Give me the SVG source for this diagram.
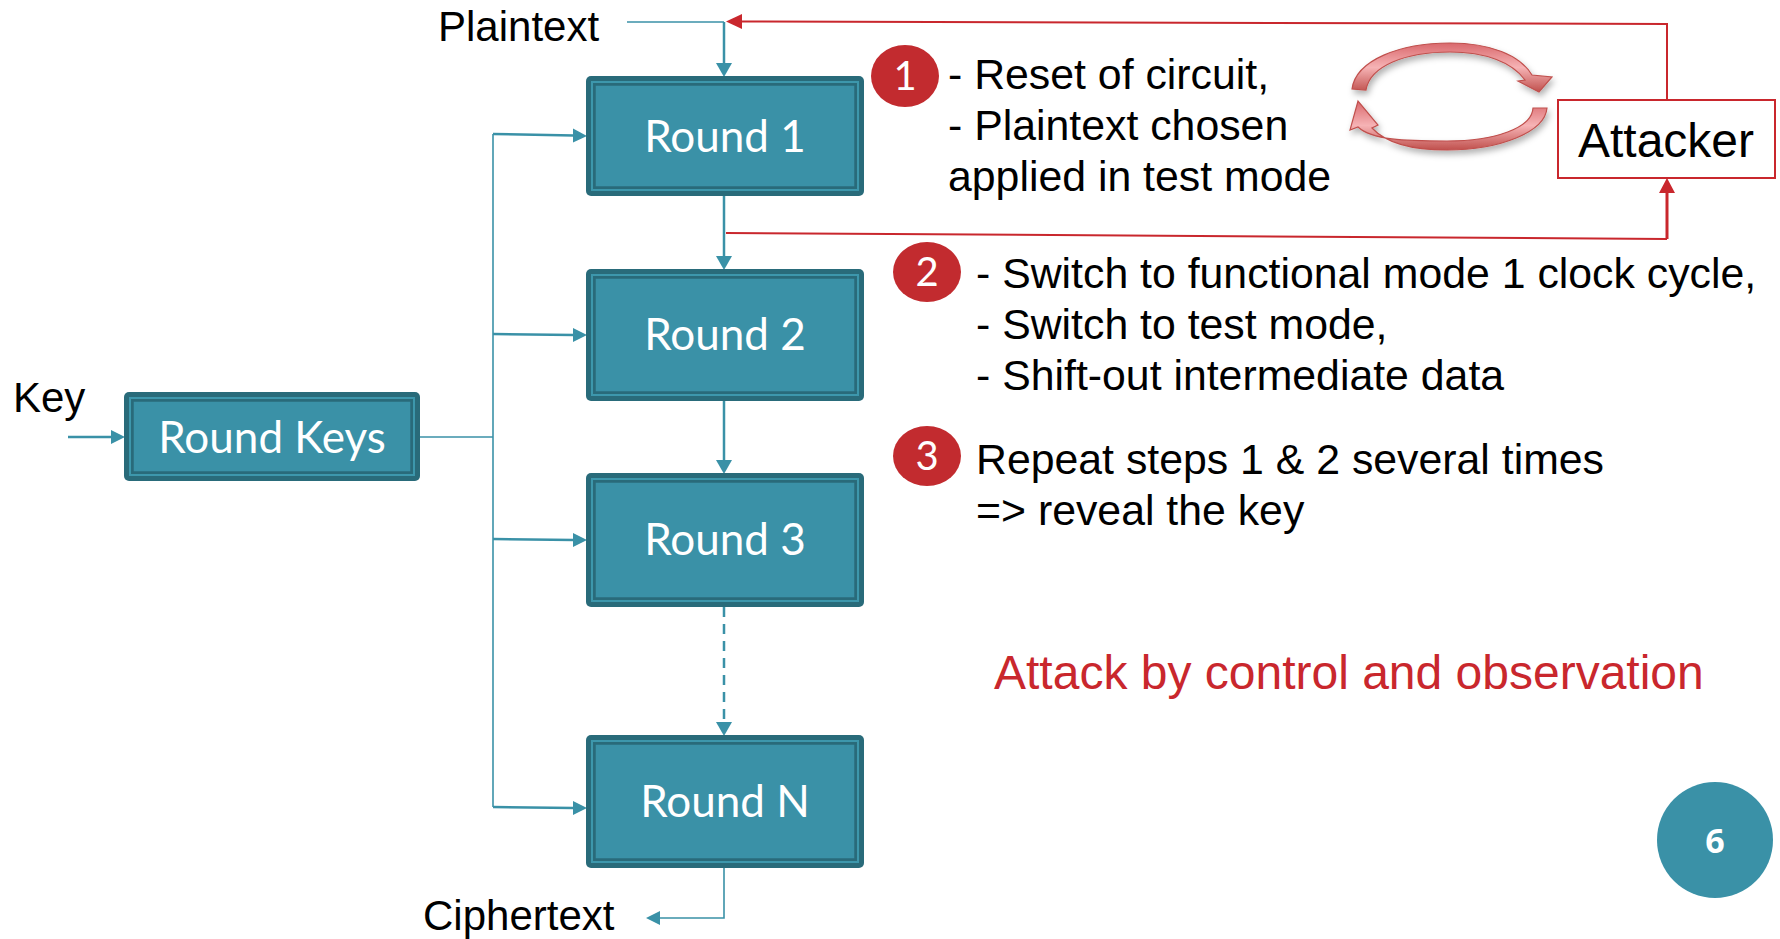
<svg xmlns="http://www.w3.org/2000/svg" width="1780" height="939" viewBox="0 0 1780 939">
<style>
.lbl{font-family:"Liberation Sans",Arial,sans-serif;font-size:42px;fill:#000}
.box-o{fill:#296b7a}
.box-m{fill:none;stroke:#3d97ac;stroke-width:2}
.box-i{fill:#3a91a7;stroke:#2a6b7b;stroke-width:1.5}
.box-t{font-family:Lato,"Open Sans",sans-serif;font-size:44px;fill:#fff;text-anchor:middle}
.tc{fill:none;stroke:#3a91a7;stroke-width:2.5}
.tcth{fill:none;stroke:#3a91a7;stroke-width:1.6}
.rd{fill:none;stroke:#c9272d;stroke-width:2}
.badge{fill:#c22b2f}
.badge-t{font-family:Lato,"Open Sans",sans-serif;font-size:40px;fill:#fff;text-anchor:middle}
.step{font-family:"Liberation Sans",Arial,sans-serif;font-size:42.8px;fill:#000}
</style>
<defs>
<linearGradient id="cg" x1="0" y1="0" x2="0" y2="1"><stop offset="0" stop-color="#d9686c"/><stop offset="0.5" stop-color="#f6b3b5"/><stop offset="1" stop-color="#c0504d"/></linearGradient>
<filter id="sh" x="-20%" y="-20%" width="140%" height="160%"><feDropShadow dx="2" dy="4" stdDeviation="3" flood-color="#000" flood-opacity="0.3"/></filter>
</defs>

<g id="connectors">
  <path class="tcth" d="M627,22 H724"/>
  <path class="tc" d="M724,22 V63"/>
  <path d="M716,63 L732,63 L724,77 z" fill="#3a91a7"/>
  <path class="tc" d="M724,196 V256"/>
  <path d="M716,256 L732,256 L724,270 z" fill="#3a91a7"/>
  <path class="tc" d="M724,401 V460"/>
  <path d="M716,460 L732,460 L724,474 z" fill="#3a91a7"/>
  <path class="tc" d="M724,607 V722" stroke-dasharray="10,7"/>
  <path d="M716,722 L732,722 L724,736 z" fill="#3a91a7"/>
  <path class="tcth" d="M724,868 V918 H660"/>
  <path d="M660,911 L660,925 L646,918 z" fill="#3a91a7"/>
  <path class="tc" d="M68,437 H112"/>
  <path d="M111,430 L111,444 L125,437 z" fill="#3a91a7"/>
  <path class="tcth" d="M420,437 H493"/>
  <path class="tcth" d="M493,134 V807"/>
  <path class="tc" d="M493,134 L574,135.5"/>
  <path d="M573,128.5 L573,142.5 L587,136 z" fill="#3a91a7"/>
  <path class="tc" d="M493,334 L574,335"/>
  <path d="M573,328 L573,342 L587,335 z" fill="#3a91a7"/>
  <path class="tc" d="M493,539 L574,540"/>
  <path d="M573,533 L573,547 L587,540 z" fill="#3a91a7"/>
  <path class="tc" d="M493,807 L574,808"/>
  <path d="M573,801 L573,815 L587,808 z" fill="#3a91a7"/>
  <path class="rd" d="M1667,100 V24 L742,21.5"/>
  <path d="M742,14 L742,29 L726,21.5 z" fill="#c9272d"/>
  <path class="rd" d="M726,233 L1667,239"/>
  <path d="M1667,239 V192" fill="none" stroke="#c9272d" stroke-width="3"/>
  <path d="M1659,193 L1675,193 L1667,178 z" fill="#c9272d"/>
</g>

<g id="round1">
  <rect class="box-o" x="586" y="76" width="278" height="120" rx="5"/>
  <rect class="box-m" x="592" y="82" width="266" height="108"/>
  <rect class="box-i" x="595" y="85" width="260" height="102"/>
  <text class="box-t" x="725" y="152">Round 1</text>
</g>
<g id="round2">
  <rect class="box-o" x="586" y="269" width="278" height="132" rx="5"/>
  <rect class="box-m" x="592" y="275" width="266" height="120"/>
  <rect class="box-i" x="595" y="278" width="260" height="114"/>
  <text class="box-t" x="725" y="350">Round 2</text>
</g>
<g id="round3">
  <rect class="box-o" x="586" y="473" width="278" height="134" rx="5"/>
  <rect class="box-m" x="592" y="479" width="266" height="122"/>
  <rect class="box-i" x="595" y="482" width="260" height="116"/>
  <text class="box-t" x="725" y="555">Round 3</text>
</g>
<g id="roundN">
  <rect class="box-o" x="586" y="735" width="278" height="133" rx="5"/>
  <rect class="box-m" x="592" y="741" width="266" height="121"/>
  <rect class="box-i" x="595" y="744" width="260" height="115"/>
  <text class="box-t" x="725" y="817">Round N</text>
</g>
<g id="roundkeys">
  <rect class="box-o" x="124" y="392" width="296" height="89" rx="5"/>
  <rect class="box-m" x="130" y="398" width="284" height="77"/>
  <rect class="box-i" x="133" y="401" width="278" height="71"/>
  <text class="box-t" x="272" y="453">Round Keys</text>
</g>
<g id="attacker">
  <rect x="1558" y="100" width="217" height="78" fill="#fff" stroke="#c9272d" stroke-width="2"/>
  <text x="1666" y="157" font-family="Liberation Sans, Arial, sans-serif" font-size="48" text-anchor="middle">Attacker</text>
</g>

<g id="labels">
  <text class="lbl" x="438" y="41">Plaintext</text>
  <text class="lbl" x="13" y="412">Key</text>
  <text class="lbl" x="423" y="930">Ciphertext</text>
</g>

<g id="cycle" filter="url(#sh)">
  <path d="M1352,89 C1356,60 1400,43 1450,43 C1490,43 1520,55 1532,75 L1552,77 L1539,92 L1518,81 L1525,80 C1512,62 1485,52 1450,52 C1405,52 1370,66 1366,90 z" fill="url(#cg)" stroke="#c0504d" stroke-width="1.2"/>
  <path d="M1547,108 C1545,132 1500,150 1447,150 C1410,150 1385,142 1372,128 L1378,125 L1358,101 L1350,130 L1358,127 C1372,140 1405,141 1447,141 C1495,141 1532,128 1533,108 z" fill="url(#cg)" stroke="#c0504d" stroke-width="1.2"/>
</g>

<g id="step1">
  <ellipse class="badge" cx="905" cy="76" rx="34" ry="31"/>
  <text class="badge-t" x="905" y="90">1</text>
  <text class="step" x="948" y="89">- Reset of circuit,</text>
  <text class="step" x="948" y="140">- Plaintext chosen</text>
  <text class="step" x="948" y="191">applied in test mode</text>
</g>
<g id="step2">
  <ellipse class="badge" cx="927" cy="272" rx="34" ry="30"/>
  <text class="badge-t" x="927" y="286">2</text>
  <text class="step" x="976" y="288">- Switch to functional mode 1 clock cycle,</text>
  <text class="step" x="976" y="339">- Switch to test mode,</text>
  <text class="step" x="976" y="390">- Shift-out intermediate data</text>
</g>
<g id="step3">
  <ellipse class="badge" cx="927" cy="456" rx="34" ry="30"/>
  <text class="badge-t" x="927" y="470">3</text>
  <text class="step" x="976" y="474">Repeat steps 1 &amp; 2 several times</text>
  <text class="step" x="976" y="525">=&gt; reveal the key</text>
</g>

<text x="994" y="689" font-family="Liberation Sans, Arial, sans-serif" font-size="48" fill="#c9272d">Attack by control and observation</text>

<g id="pagenum">
  <circle cx="1715" cy="840" r="58" fill="#3a91a7"/>
  <text x="1715" y="853" font-family="'Open Sans', Lato, sans-serif" font-size="34" font-weight="bold" fill="#fff" text-anchor="middle">6</text>
</g>
</svg>
